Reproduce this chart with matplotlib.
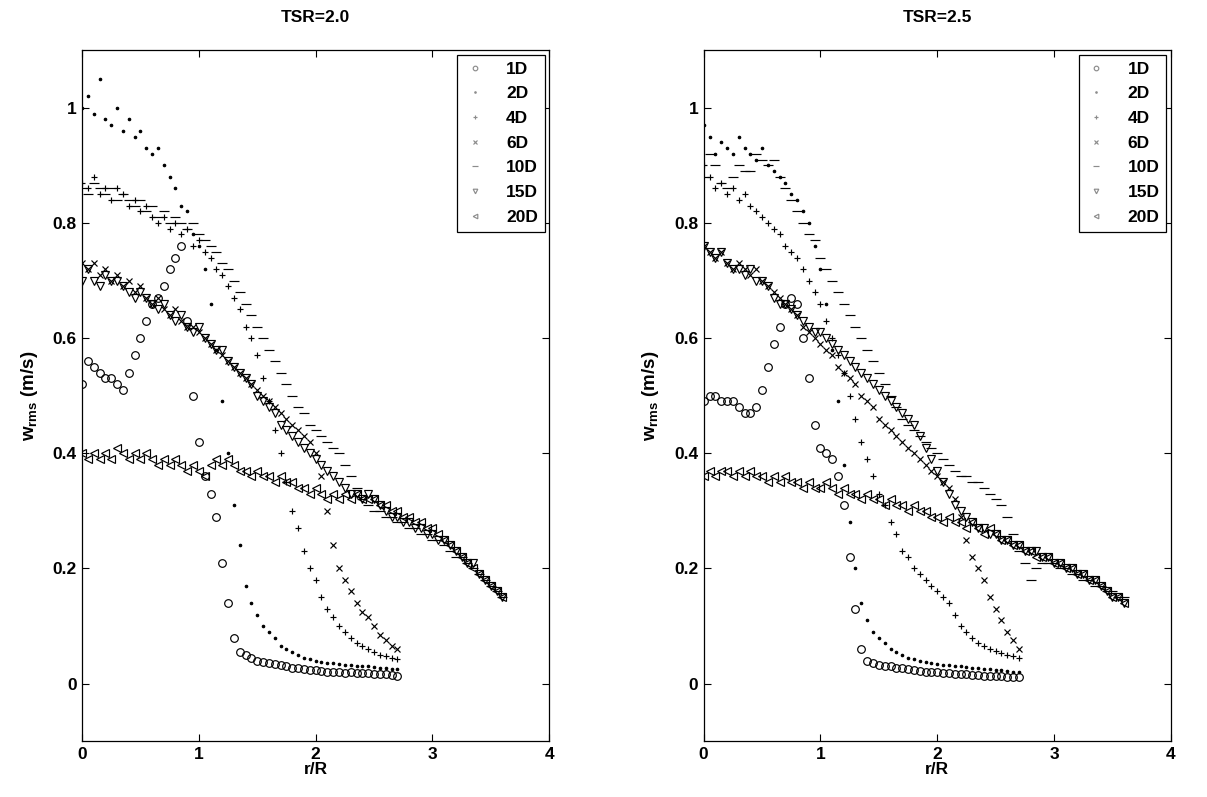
import matplotlib.pyplot as plt

plt.rcParams["font.family"] = ["Liberation Sans", "DejaVu Sans"]
plt.rcParams["font.weight"] = "bold"
plt.rcParams["mathtext.default"] = "regular"

# radial positions r/R (two traverse lengths)
R_A = [0.00, 0.05, 0.10, 0.15, 0.20, 0.25, 0.30, 0.35, 0.40, 0.45,
       0.50, 0.55, 0.60, 0.65, 0.70, 0.75, 0.80, 0.85, 0.90, 0.95,
       1.00, 1.05, 1.10, 1.15, 1.20, 1.25, 1.30, 1.35, 1.40, 1.45,
       1.50, 1.55, 1.60, 1.65, 1.70, 1.75, 1.80, 1.85, 1.90, 1.95,
       2.00, 2.05, 2.10, 2.15, 2.20, 2.25, 2.30, 2.35, 2.40, 2.45,
       2.50, 2.55, 2.60, 2.65, 2.70]
R_B = R_A + [2.75, 2.80, 2.85, 2.90, 2.95,
             3.00, 3.05, 3.10, 3.15, 3.20, 3.25, 3.30, 3.35, 3.40, 3.45,
             3.50, 3.55, 3.60]

# ---- TSR = 2.0 ----
TSR20_1D = [0.52, 0.56, 0.55, 0.54, 0.53, 0.53, 0.52, 0.51, 0.54, 0.57,
            0.60, 0.63, 0.66, 0.67, 0.69, 0.72, 0.74, 0.76, 0.63, 0.50,
            0.42, 0.36, 0.33, 0.29, 0.21, 0.14, 0.08, 0.055, 0.05, 0.045,
            0.040, 0.038, 0.036, 0.034, 0.032, 0.030, 0.028, 0.027, 0.025, 0.024,
            0.023, 0.022, 0.021, 0.020, 0.020, 0.019, 0.020, 0.019, 0.018, 0.018,
            0.017, 0.016, 0.016, 0.015, 0.014]
TSR20_2D = [1.00, 1.02, 0.99, 1.05, 0.98, 0.97, 1.00, 0.96, 0.98, 0.95,
            0.96, 0.93, 0.92, 0.93, 0.90, 0.88, 0.86, 0.83, 0.82, 0.78,
            0.76, 0.72, 0.66, 0.58, 0.49, 0.40, 0.31, 0.24, 0.17, 0.14,
            0.12, 0.10, 0.09, 0.08, 0.065, 0.06, 0.055, 0.05, 0.045, 0.043,
            0.040, 0.038, 0.036, 0.035, 0.034, 0.033, 0.032, 0.031, 0.030, 0.030,
            0.029, 0.028, 0.027, 0.026, 0.025]
TSR20_4D = [0.87, 0.86, 0.88, 0.85, 0.86, 0.84, 0.86, 0.85, 0.83, 0.84,
            0.82, 0.83, 0.81, 0.80, 0.81, 0.79, 0.80, 0.78, 0.79, 0.76,
            0.77, 0.75, 0.74, 0.72, 0.71, 0.69, 0.67, 0.65, 0.62, 0.60,
            0.57, 0.53, 0.49, 0.44, 0.40, 0.35, 0.30, 0.27, 0.23, 0.20,
            0.18, 0.15, 0.13, 0.115, 0.10, 0.09, 0.08, 0.07, 0.065, 0.06,
            0.055, 0.05, 0.048, 0.045, 0.043]
TSR20_6D = [0.73, 0.72, 0.73, 0.71, 0.72, 0.70, 0.71, 0.69, 0.70, 0.68,
            0.69, 0.67, 0.66, 0.67, 0.65, 0.64, 0.65, 0.63, 0.62, 0.62,
            0.61, 0.60, 0.59, 0.58, 0.57, 0.56, 0.55, 0.54, 0.53, 0.52,
            0.51, 0.50, 0.49, 0.48, 0.47, 0.46, 0.45, 0.44, 0.43, 0.42,
            0.40, 0.36, 0.30, 0.24, 0.20, 0.18, 0.16, 0.14, 0.125, 0.115,
            0.10, 0.085, 0.075, 0.065, 0.06]
TSR20_10D = [0.86, 0.85, 0.87, 0.86, 0.85, 0.86, 0.84, 0.85, 0.84, 0.83,
             0.84, 0.82, 0.83, 0.81, 0.82, 0.80, 0.81, 0.80, 0.79, 0.80,
             0.78, 0.77, 0.76, 0.75, 0.73, 0.72, 0.70, 0.68, 0.66, 0.64,
             0.62, 0.60, 0.58, 0.56, 0.54, 0.52, 0.50, 0.48, 0.47, 0.45,
             0.44, 0.43, 0.42, 0.41, 0.40, 0.38, 0.36, 0.34, 0.32, 0.31,
             0.30, 0.30, 0.29, 0.29, 0.28, 0.28, 0.27, 0.27, 0.26, 0.26,
             0.25, 0.25, 0.24, 0.23, 0.22, 0.22, 0.21, 0.20, 0.19, 0.18,
             0.17, 0.16, 0.15]
TSR20_15D = [0.70, 0.72, 0.70, 0.69, 0.71, 0.70, 0.70, 0.69, 0.68, 0.67,
             0.68, 0.67, 0.66, 0.65, 0.66, 0.64, 0.63, 0.64, 0.62, 0.61,
             0.62, 0.60, 0.59, 0.58, 0.58, 0.56, 0.55, 0.54, 0.53, 0.52,
             0.50, 0.49, 0.48, 0.47, 0.45, 0.44, 0.43, 0.42, 0.41, 0.40,
             0.39, 0.38, 0.37, 0.36, 0.35, 0.34, 0.33, 0.33, 0.32, 0.33,
             0.32, 0.31, 0.30, 0.29, 0.29, 0.28, 0.28, 0.27, 0.27, 0.26,
             0.26, 0.25, 0.25, 0.24, 0.23, 0.22, 0.21, 0.21, 0.19, 0.18,
             0.17, 0.16, 0.15]
TSR20_20D = [0.40, 0.39, 0.40, 0.39, 0.40, 0.39, 0.41, 0.40, 0.39, 0.40,
             0.39, 0.40, 0.39, 0.38, 0.39, 0.38, 0.39, 0.38, 0.37, 0.38,
             0.37, 0.36, 0.38, 0.39, 0.38, 0.39, 0.38, 0.37, 0.37, 0.36,
             0.37, 0.36, 0.36, 0.35, 0.36, 0.35, 0.35, 0.34, 0.34, 0.33,
             0.34, 0.33, 0.32, 0.33, 0.32, 0.33, 0.32, 0.33, 0.32, 0.32,
             0.32, 0.31, 0.31, 0.30, 0.30, 0.29, 0.29, 0.28, 0.28, 0.27,
             0.27, 0.26, 0.25, 0.24, 0.23, 0.22, 0.21, 0.20, 0.19, 0.18,
             0.17, 0.16, 0.15]

# ---- TSR = 2.5 ----
TSR25_1D = [0.49, 0.50, 0.50, 0.49, 0.49, 0.49, 0.48, 0.47, 0.47, 0.48,
            0.51, 0.55, 0.59, 0.62, 0.66, 0.67, 0.66, 0.60, 0.53, 0.45,
            0.41, 0.40, 0.39, 0.36, 0.31, 0.22, 0.13, 0.06, 0.04, 0.035,
            0.033, 0.030, 0.030, 0.028, 0.027, 0.025, 0.024, 0.022, 0.021, 0.020,
            0.020, 0.019, 0.018, 0.017, 0.016, 0.016, 0.015, 0.015, 0.014, 0.014,
            0.013, 0.013, 0.012, 0.012, 0.011]
TSR25_2D = [0.97, 0.95, 0.92, 0.94, 0.93, 0.92, 0.95, 0.93, 0.92, 0.91,
            0.93, 0.90, 0.89, 0.88, 0.87, 0.85, 0.84, 0.82, 0.80, 0.76,
            0.72, 0.66, 0.58, 0.49, 0.38, 0.28, 0.20, 0.14, 0.11, 0.09,
            0.08, 0.07, 0.06, 0.055, 0.05, 0.045, 0.042, 0.040, 0.038, 0.036,
            0.034, 0.033, 0.032, 0.031, 0.030, 0.029, 0.028, 0.027, 0.026, 0.025,
            0.024, 0.023, 0.022, 0.021, 0.020]
TSR25_4D = [0.90, 0.88, 0.86, 0.87, 0.85, 0.86, 0.84, 0.85, 0.83, 0.82,
            0.81, 0.80, 0.79, 0.78, 0.76, 0.75, 0.74, 0.72, 0.70, 0.68,
            0.66, 0.63, 0.60, 0.57, 0.54, 0.50, 0.46, 0.42, 0.39, 0.36,
            0.33, 0.31, 0.28, 0.26, 0.23, 0.22, 0.20, 0.19, 0.18, 0.17,
            0.16, 0.15, 0.14, 0.12, 0.10, 0.09, 0.08, 0.07, 0.065, 0.06,
            0.056, 0.053, 0.050, 0.048, 0.045]
TSR25_6D = [0.76, 0.75, 0.74, 0.75, 0.73, 0.72, 0.73, 0.72, 0.71, 0.72,
            0.70, 0.69, 0.68, 0.67, 0.66, 0.65, 0.64, 0.62, 0.61, 0.60,
            0.59, 0.58, 0.57, 0.55, 0.54, 0.53, 0.52, 0.50, 0.49, 0.48,
            0.46, 0.45, 0.44, 0.43, 0.42, 0.41, 0.40, 0.39, 0.38, 0.37,
            0.36, 0.35, 0.34, 0.32, 0.29, 0.25, 0.22, 0.20, 0.18, 0.15,
            0.13, 0.11, 0.09, 0.075, 0.06]
TSR25_10D = [0.88, 0.92, 0.90, 0.87, 0.86, 0.88, 0.90, 0.89, 0.89, 0.92,
             0.91, 0.90, 0.91, 0.88, 0.86, 0.84, 0.82, 0.80, 0.78, 0.77,
             0.74, 0.72, 0.70, 0.68, 0.66, 0.64, 0.62, 0.60, 0.58, 0.56,
             0.54, 0.52, 0.50, 0.48, 0.46, 0.45, 0.44, 0.43, 0.42, 0.41,
             0.40, 0.39, 0.38, 0.37, 0.36, 0.36, 0.35, 0.35, 0.34, 0.33,
             0.32, 0.31, 0.29, 0.26, 0.23, 0.21, 0.18, 0.20, 0.21, 0.21,
             0.21, 0.20, 0.20, 0.19, 0.19, 0.18, 0.18, 0.17, 0.17, 0.16,
             0.16, 0.15, 0.15]
TSR25_15D = [0.76, 0.75, 0.74, 0.75, 0.73, 0.72, 0.72, 0.71, 0.72, 0.70,
             0.70, 0.69, 0.67, 0.66, 0.66, 0.65, 0.64, 0.63, 0.62, 0.61,
             0.61, 0.60, 0.59, 0.58, 0.57, 0.56, 0.55, 0.54, 0.53, 0.52,
             0.51, 0.50, 0.49, 0.48, 0.47, 0.46, 0.45, 0.43, 0.41, 0.39,
             0.37, 0.35, 0.33, 0.31, 0.30, 0.29, 0.28, 0.27, 0.27, 0.26,
             0.26, 0.25, 0.25, 0.24, 0.24, 0.23, 0.23, 0.23, 0.22, 0.22,
             0.21, 0.21, 0.20, 0.20, 0.19, 0.19, 0.18, 0.18, 0.17, 0.16,
             0.15, 0.15, 0.14]
TSR25_20D = [0.36, 0.37, 0.36, 0.37, 0.37, 0.36, 0.37, 0.36, 0.37, 0.36,
             0.36, 0.35, 0.36, 0.35, 0.36, 0.35, 0.35, 0.34, 0.35, 0.34,
             0.34, 0.35, 0.34, 0.33, 0.34, 0.33, 0.33, 0.32, 0.33, 0.32,
             0.32, 0.31, 0.32, 0.31, 0.31, 0.30, 0.31, 0.30, 0.30, 0.29,
             0.29, 0.28, 0.29, 0.28, 0.28, 0.27, 0.28, 0.27, 0.26, 0.27,
             0.26, 0.25, 0.25, 0.24, 0.24, 0.23, 0.23, 0.22, 0.22, 0.22,
             0.21, 0.21, 0.20, 0.20, 0.19, 0.19, 0.18, 0.18, 0.17, 0.16,
             0.15, 0.15, 0.14]

LABELS = ["1D", "2D", "4D", "6D", "10D", "15D", "20D"]
MARKERS = ["o", ".", "+", "x", "_", "v", "<"]
SIZES = [5.5, 3.5, 4.5, 4, 6.5, 5.5, 5.5]


def draw_panel(ax, title, series):
    for (r, w), label, marker, size in zip(series, LABELS, MARKERS, SIZES):
        face = "black" if marker == "." else "none"
        ax.plot(r, w, linestyle="none", marker=marker, markersize=size,
                markerfacecolor=face, markeredgecolor="black",
                markeredgewidth=0.85, label=label)

    ax.set_xlim(0, 4)
    ax.set_ylim(-0.1, 1.1)
    ax.set_xticks([0, 1, 2, 3, 4])
    ax.set_yticks([0, 0.2, 0.4, 0.6, 0.8, 1.0])
    ax.set_yticklabels(["0", "0.2", "0.4", "0.6", "0.8", "1"])
    ax.tick_params(direction="in", top=True, right=True, length=5,
                   width=0.8, labelsize=12.5, pad=4)
    for spine in ax.spines.values():
        spine.set_linewidth(0.9)

    ax.set_title(title, fontsize=12.5, fontweight="bold", pad=20)
    ax.set_xlabel("r/R", fontsize=12.5, fontweight="bold", labelpad=0)
    ax.set_ylabel("w$_{rms}$ (m/s)", fontsize=13.5, fontweight="bold", labelpad=9)

    leg = ax.legend(loc="upper right", fontsize=12.5, fancybox=False,
                    edgecolor="black", framealpha=1, borderaxespad=0.25,
                    handlelength=1.2, handletextpad=1.2, labelspacing=0.55,
                    markerscale=0.6)
    leg.get_frame().set_linewidth(0.9)
    for h in leg.legend_handles:
        h.set_markeredgecolor("0.55")
        h.set_markerfacecolor("none")


fig = plt.figure(figsize=(12.07, 7.97), dpi=100)
ax1 = fig.add_axes([0.068, 0.070, 0.387, 0.867])
ax2 = fig.add_axes([0.583, 0.070, 0.387, 0.867])

draw_panel(ax1, "TSR=2.0", [
    (R_A, TSR20_1D), (R_A, TSR20_2D), (R_A, TSR20_4D), (R_A, TSR20_6D),
    (R_B, TSR20_10D), (R_B, TSR20_15D), (R_B, TSR20_20D)])
draw_panel(ax2, "TSR=2.5", [
    (R_A, TSR25_1D), (R_A, TSR25_2D), (R_A, TSR25_4D), (R_A, TSR25_6D),
    (R_B, TSR25_10D), (R_B, TSR25_15D), (R_B, TSR25_20D)])

fig.savefig("out.png", dpi=100)
